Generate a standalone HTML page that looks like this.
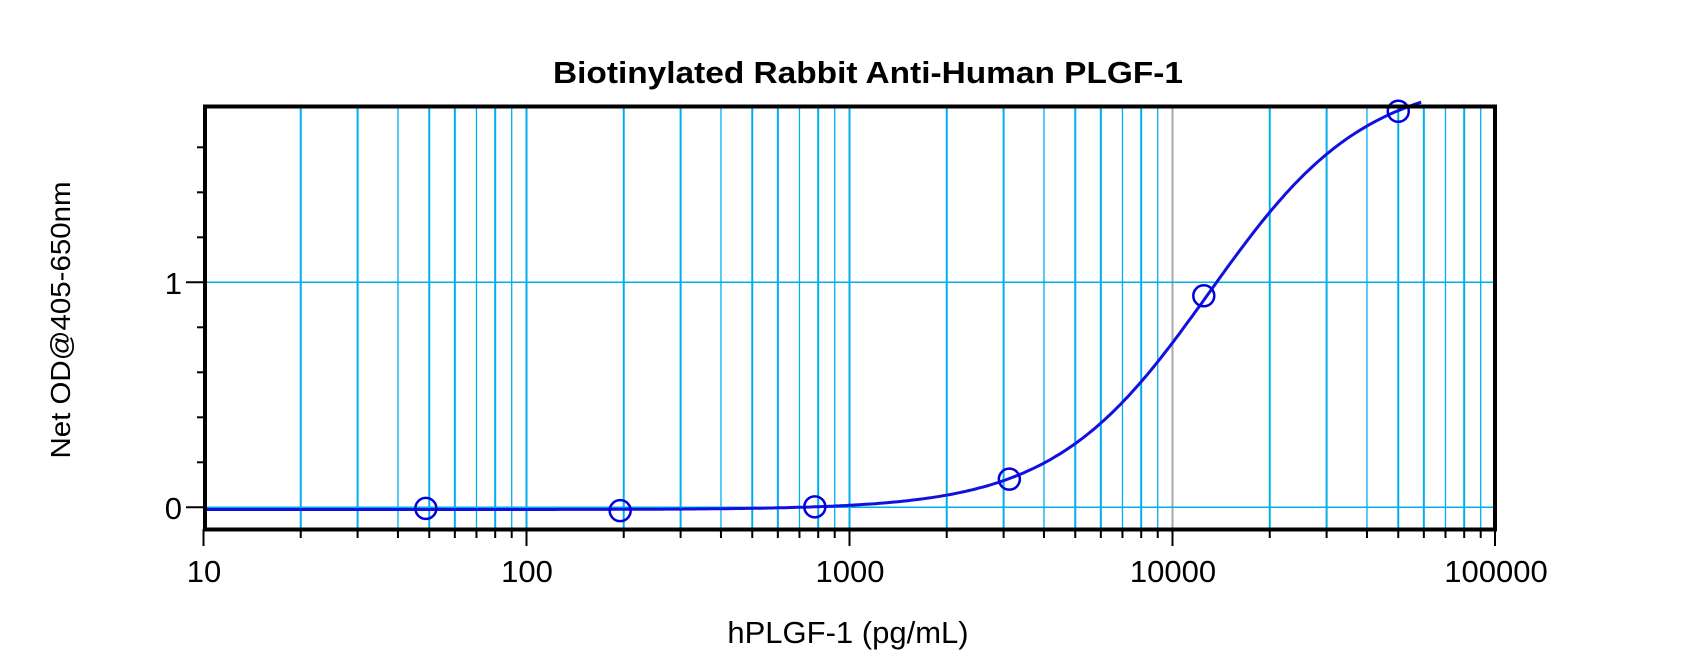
<!DOCTYPE html>
<html><head><meta charset="utf-8"><style>
html,body{margin:0;padding:0;background:#fff;}
svg{display:block;font-family:"Liberation Sans",Arial,sans-serif;}
</style></head><body>
<svg id="s" width="1700" height="671" viewBox="0 0 1700 671" xmlns="http://www.w3.org/2000/svg">
<rect width="1700" height="671" fill="#fff"/>
<g id="grid"></g>
<g id="ticks" stroke="#000" stroke-width="2"></g>
<path id="curve" fill="none" stroke="#1010e0" stroke-width="3"/>
<g id="pts" fill="none" stroke="#0000dd" stroke-width="2.5"></g>
<rect x="205" y="106.5" width="1290" height="423" fill="none" stroke="#000" stroke-width="4"/>
<text x="868" y="83" font-size="31" font-weight="bold" text-anchor="middle" textLength="630" lengthAdjust="spacingAndGlyphs">Biotinylated Rabbit Anti-Human PLGF-1</text>
<g font-size="31" text-anchor="middle">
<text x="204" y="582">10</text>
<text x="527" y="582">100</text>
<text x="850" y="582">1000</text>
<text x="1173" y="582">10000</text>
<text x="1496" y="582">100000</text>
<text x="848" y="643">hPLGF-1 (pg/mL)</text>
</g>
<g font-size="31" text-anchor="end">
<text x="182" y="294">1</text>
<text x="182" y="519">0</text>
</g>
<text transform="translate(70,320) rotate(-90)" font-size="28" text-anchor="middle" textLength="277" lengthAdjust="spacingAndGlyphs">Net OD@405-650nm</text>
</svg>
<script>
var NS="http://www.w3.org/2000/svg";
var x0=203.5,dec=323,y0=507.3,yu=225,top_=105,bot=529,right=1495;
function X(v){return x0+(Math.log10(v)-1)*dec;}
function Y(v){return y0-v*yu;}
function el(p,t,a){var e=document.createElementNS(NS,t);for(var k in a)e.setAttribute(k,a[k]);p.appendChild(e);return e;}
var g=document.getElementById('grid'),tk=document.getElementById('ticks');
for(var d=1;d<=4;d++){for(var m=1;m<=9;m++){var v=m*Math.pow(10,d);if(v>=100000)break;if(v<=10)continue;
 var x=X(v);var col=(v==10000)?"#a8a8a8":"#00aeef";var w=(m==1||m==2||m==3||m==5||m==6||m==8)?2:1.3;
 el(g,'line',{x1:x,x2:x,y1:top_,y2:bot,stroke:col,'stroke-width':w});
 el(tk,'line',{x1:x,x2:x,y1:bot,y2:m==1?546:538});}}
el(tk,'line',{x1:x0,x2:x0,y1:bot,y2:546});el(tk,'line',{x1:right,x2:right,y1:bot,y2:546});
[0,1].forEach(function(v){el(g,'line',{x1:x0,x2:right,y1:Y(v),y2:Y(v),stroke:"#00aeef",'stroke-width':1.5});});
for(var i=0;i<=8;i++){var v=i*0.2;var y=Y(v);el(tk,'line',{x1:(i%5==0)?186:197,x2:x0,y1:y,y2:y});}
function f(c){return -0.01+1.93/(1+Math.pow(13000/c,1.8));}
var d="";for(var lx=1;lx<=4.775;lx+=0.01){var c=Math.pow(10,lx);d+=(d?"L":"M")+X(c).toFixed(1)+","+Y(f(c)).toFixed(1);}
document.getElementById('curve').setAttribute('d',d);
var p=document.getElementById('pts');
[[48.8,-0.005],[195,-0.015],[781,0.002],[3125,0.125],[12500,0.94],[50000,1.76]].forEach(function(q){el(p,'circle',{cx:X(q[0]),cy:Y(q[1]),r:10.5});});
</script>
</body></html>
